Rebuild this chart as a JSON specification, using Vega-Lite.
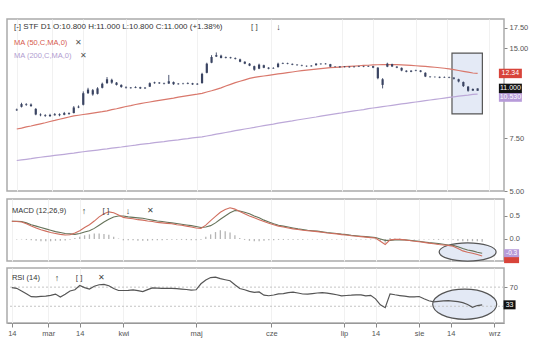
{
"$schema":"https://vega.github.io/schema/vega-lite/v6.json",
"background":"white",
"padding":{"left":5,"top":18,"right":2,"bottom":2},
"spacing":2,
"config":{"font":"Liberation Sans","view":{"stroke":"#aaaaaa","strokeWidth":1.5},"text":{"font":"Liberation Sans"},
"axis":{"labelFont":"Liberation Sans","labelFontSize":7.5,"labelColor":"#555","tickColor":"#888","domainColor":"#999","tickSize":3,"gridColor":"#f1f1f1","labelPadding":2}},
"datasets":{"p":[
{"d":"2017-02-14","o":9.3,"h":9.42,"l":9.25,"c":9.35,"m50":8.05,"m200":6.32,"macd":0.385,"sig":0.387,"hist":0,"rsi":69},
{"d":"2017-02-16","o":9.55,"h":9.85,"l":9.5,"c":9.75,"m50":8.11,"m200":6.35,"macd":0.38,"sig":0.385,"hist":-0.01,"rsi":67.5},
{"d":"2017-02-18","o":9.75,"h":9.82,"l":9.62,"c":9.7,"m50":8.18,"m200":6.38,"macd":0.37,"sig":0.38,"hist":-0.01,"rsi":62},
{"d":"2017-02-20","o":9.72,"h":9.8,"l":9.55,"c":9.6,"m50":8.24,"m200":6.41,"macd":0.33,"sig":0.35,"hist":-0.02,"rsi":56},
{"d":"2017-02-22","o":9.4,"h":9.45,"l":8.95,"c":9.0,"m50":8.31,"m200":6.45,"macd":0.28,"sig":0.31,"hist":-0.03,"rsi":50},
{"d":"2017-02-24","o":9.0,"h":9.08,"l":8.88,"c":8.95,"m50":8.38,"m200":6.48,"macd":0.24,"sig":0.28,"hist":-0.04,"rsi":49.8},
{"d":"2017-02-26","o":8.95,"h":9.02,"l":8.84,"c":8.9,"m50":8.45,"m200":6.51,"macd":0.2,"sig":0.25,"hist":-0.05,"rsi":50.6},
{"d":"2017-02-28","o":8.88,"h":9.05,"l":8.85,"c":8.97,"m50":8.53,"m200":6.54,"macd":0.17,"sig":0.22,"hist":-0.05,"rsi":51.3},
{"d":"2017-03-02","o":8.95,"h":9.1,"l":8.92,"c":9.02,"m50":8.6,"m200":6.57,"macd":0.14,"sig":0.19,"hist":-0.05,"rsi":52.8},
{"d":"2017-03-04","o":9.02,"h":9.08,"l":8.88,"c":8.95,"m50":8.68,"m200":6.6,"macd":0.12,"sig":0.16,"hist":-0.04,"rsi":55.5},
{"d":"2017-03-06","o":8.98,"h":9.18,"l":8.95,"c":9.1,"m50":8.75,"m200":6.63,"macd":0.1,"sig":0.14,"hist":-0.04,"rsi":49.3},
{"d":"2017-03-08","o":9.1,"h":9.15,"l":8.98,"c":9.04,"m50":8.83,"m200":6.66,"macd":0.085,"sig":0.12,"hist":-0.035,"rsi":55},
{"d":"2017-03-10","o":9.1,"h":9.6,"l":9.08,"c":9.5,"m50":8.9,"m200":6.69,"macd":0.09,"sig":0.11,"hist":-0.02,"rsi":62},
{"d":"2017-03-12","o":9.5,"h":9.65,"l":9.45,"c":9.56,"m50":8.95,"m200":6.73,"macd":0.13,"sig":0.1,"hist":0.02,"rsi":64.4},
{"d":"2017-03-14","o":9.7,"h":10.75,"l":9.65,"c":10.6,"m50":9.0,"m200":6.76,"macd":0.18,"sig":0.12,"hist":0.05,"rsi":73.5},
{"d":"2017-03-16","o":10.6,"h":11.05,"l":10.55,"c":10.9,"m50":9.05,"m200":6.79,"macd":0.25,"sig":0.15,"hist":0.08,"rsi":69},
{"d":"2017-03-18","o":10.85,"h":10.95,"l":10.4,"c":10.5,"m50":9.1,"m200":6.82,"macd":0.31,"sig":0.18,"hist":0.1,"rsi":66},
{"d":"2017-03-20","o":10.55,"h":11.1,"l":10.5,"c":11.0,"m50":9.15,"m200":6.85,"macd":0.39,"sig":0.23,"hist":0.12,"rsi":71.8},
{"d":"2017-03-22","o":11.05,"h":11.5,"l":11.0,"c":11.4,"m50":9.2,"m200":6.88,"macd":0.48,"sig":0.3,"hist":0.12,"rsi":75},
{"d":"2017-03-24","o":11.45,"h":12.0,"l":11.4,"c":11.8,"m50":9.26,"m200":6.91,"macd":0.55,"sig":0.37,"hist":0.11,"rsi":75.8},
{"d":"2017-03-26","o":11.75,"h":11.85,"l":11.4,"c":11.5,"m50":9.34,"m200":6.95,"macd":0.59,"sig":0.43,"hist":0.09,"rsi":72.9},
{"d":"2017-03-28","o":11.5,"h":11.55,"l":11.25,"c":11.3,"m50":9.41,"m200":6.98,"macd":0.57,"sig":0.48,"hist":0.05,"rsi":67},
{"d":"2017-03-30","o":11.3,"h":11.35,"l":11.05,"c":11.12,"m50":9.49,"m200":7.01,"macd":0.52,"sig":0.5,"hist":0.01,"rsi":63},
{"d":"2017-04-01","o":11.1,"h":11.18,"l":10.98,"c":11.05,"m50":9.57,"m200":7.05,"macd":0.47,"sig":0.5,"hist":-0.03,"rsi":63},
{"d":"2017-04-03","o":11.02,"h":11.12,"l":10.98,"c":11.07,"m50":9.64,"m200":7.08,"macd":0.45,"sig":0.48,"hist":-0.03,"rsi":63.4},
{"d":"2017-04-05","o":11.05,"h":11.18,"l":11.02,"c":11.12,"m50":9.72,"m200":7.11,"macd":0.44,"sig":0.47,"hist":-0.03,"rsi":64.1},
{"d":"2017-04-07","o":11.1,"h":11.14,"l":10.95,"c":11.0,"m50":9.79,"m200":7.15,"macd":0.42,"sig":0.46,"hist":-0.04,"rsi":62.6},
{"d":"2017-04-09","o":11.0,"h":11.12,"l":10.96,"c":11.06,"m50":9.85,"m200":7.18,"macd":0.41,"sig":0.45,"hist":-0.04,"rsi":60.6},
{"d":"2017-04-11","o":11.15,"h":11.52,"l":11.12,"c":11.45,"m50":9.91,"m200":7.21,"macd":0.39,"sig":0.43,"hist":-0.04,"rsi":64.8},
{"d":"2017-04-13","o":11.45,"h":11.58,"l":11.4,"c":11.52,"m50":9.97,"m200":7.25,"macd":0.38,"sig":0.41,"hist":-0.03,"rsi":68.5},
{"d":"2017-04-15","o":11.5,"h":11.55,"l":11.38,"c":11.44,"m50":10.03,"m200":7.28,"macd":0.36,"sig":0.39,"hist":-0.03,"rsi":67.9},
{"d":"2017-04-17","o":11.45,"h":11.5,"l":11.34,"c":11.4,"m50":10.09,"m200":7.31,"macd":0.35,"sig":0.38,"hist":-0.03,"rsi":67.3},
{"d":"2017-04-19","o":11.42,"h":12.2,"l":11.38,"c":11.62,"m50":10.15,"m200":7.35,"macd":0.34,"sig":0.365,"hist":-0.025,"rsi":67.3},
{"d":"2017-04-21","o":11.55,"h":11.6,"l":11.3,"c":11.36,"m50":10.21,"m200":7.38,"macd":0.33,"sig":0.35,"hist":-0.02,"rsi":67.3},
{"d":"2017-04-23","o":11.36,"h":11.46,"l":11.32,"c":11.41,"m50":10.28,"m200":7.41,"macd":0.31,"sig":0.335,"hist":-0.02,"rsi":67},
{"d":"2017-04-25","o":11.41,"h":11.48,"l":11.34,"c":11.38,"m50":10.34,"m200":7.45,"macd":0.3,"sig":0.32,"hist":-0.02,"rsi":65.9},
{"d":"2017-04-27","o":11.4,"h":11.52,"l":11.36,"c":11.46,"m50":10.4,"m200":7.48,"macd":0.28,"sig":0.305,"hist":-0.025,"rsi":65},
{"d":"2017-04-29","o":11.44,"h":11.48,"l":11.3,"c":11.34,"m50":10.46,"m200":7.52,"macd":0.26,"sig":0.29,"hist":-0.03,"rsi":63.6},
{"d":"2017-05-01","o":11.34,"h":11.46,"l":11.3,"c":11.4,"m50":10.52,"m200":7.55,"macd":0.24,"sig":0.27,"hist":-0.03,"rsi":64.5},
{"d":"2017-05-03","o":11.45,"h":12.4,"l":11.42,"c":12.3,"m50":10.59,"m200":7.58,"macd":0.23,"sig":0.25,"hist":-0.02,"rsi":77},
{"d":"2017-05-05","o":12.4,"h":13.4,"l":12.35,"c":13.3,"m50":10.7,"m200":7.63,"macd":0.3,"sig":0.26,"hist":0.05,"rsi":85},
{"d":"2017-05-07","o":13.4,"h":14.2,"l":13.35,"c":14.0,"m50":10.8,"m200":7.68,"macd":0.4,"sig":0.29,"hist":0.1,"rsi":90},
{"d":"2017-05-09","o":14.05,"h":14.5,"l":14.0,"c":14.2,"m50":10.92,"m200":7.74,"macd":0.49,"sig":0.35,"hist":0.15,"rsi":90.8},
{"d":"2017-05-11","o":14.15,"h":14.25,"l":13.85,"c":13.9,"m50":11.04,"m200":7.79,"macd":0.58,"sig":0.43,"hist":0.19,"rsi":87.8},
{"d":"2017-05-13","o":13.9,"h":14.05,"l":13.85,"c":13.98,"m50":11.2,"m200":7.84,"macd":0.64,"sig":0.5,"hist":0.17,"rsi":85.5},
{"d":"2017-05-15","o":13.96,"h":14.02,"l":13.84,"c":13.88,"m50":11.35,"m200":7.89,"macd":0.68,"sig":0.57,"hist":0.14,"rsi":83.4},
{"d":"2017-05-17","o":13.88,"h":13.95,"l":13.74,"c":13.8,"m50":11.5,"m200":7.95,"macd":0.65,"sig":0.62,"hist":0.08,"rsi":75},
{"d":"2017-05-19","o":13.75,"h":13.82,"l":13.45,"c":13.5,"m50":11.62,"m200":8.0,"macd":0.6,"sig":0.61,"hist":0.02,"rsi":67},
{"d":"2017-05-21","o":13.5,"h":13.55,"l":13.25,"c":13.3,"m50":11.75,"m200":8.05,"macd":0.55,"sig":0.58,"hist":-0.02,"rsi":64.6},
{"d":"2017-05-23","o":13.3,"h":13.36,"l":13.05,"c":13.1,"m50":11.88,"m200":8.1,"macd":0.5,"sig":0.55,"hist":-0.04,"rsi":61},
{"d":"2017-05-25","o":13.05,"h":13.1,"l":12.6,"c":12.7,"m50":11.98,"m200":8.15,"macd":0.46,"sig":0.5,"hist":-0.05,"rsi":59.2},
{"d":"2017-05-27","o":12.8,"h":13.3,"l":12.75,"c":13.2,"m50":12.04,"m200":8.21,"macd":0.42,"sig":0.46,"hist":-0.05,"rsi":60},
{"d":"2017-05-29","o":13.15,"h":13.2,"l":12.85,"c":12.9,"m50":12.1,"m200":8.26,"macd":0.38,"sig":0.41,"hist":-0.04,"rsi":53.2},
{"d":"2017-05-31","o":12.9,"h":12.95,"l":12.74,"c":12.8,"m50":12.16,"m200":8.31,"macd":0.34,"sig":0.37,"hist":-0.03,"rsi":52},
{"d":"2017-06-02","o":12.82,"h":12.95,"l":12.78,"c":12.86,"m50":12.22,"m200":8.36,"macd":0.31,"sig":0.33,"hist":-0.03,"rsi":53.6},
{"d":"2017-06-04","o":12.95,"h":13.4,"l":12.92,"c":13.3,"m50":12.29,"m200":8.42,"macd":0.28,"sig":0.3,"hist":-0.02,"rsi":56},
{"d":"2017-06-06","o":13.3,"h":13.42,"l":13.26,"c":13.36,"m50":12.35,"m200":8.47,"macd":0.26,"sig":0.28,"hist":-0.02,"rsi":56.4},
{"d":"2017-06-08","o":13.36,"h":13.4,"l":13.24,"c":13.3,"m50":12.42,"m200":8.52,"macd":0.24,"sig":0.26,"hist":-0.02,"rsi":58.5},
{"d":"2017-06-10","o":13.28,"h":13.32,"l":13.15,"c":13.2,"m50":12.48,"m200":8.57,"macd":0.22,"sig":0.24,"hist":-0.02,"rsi":59.6},
{"d":"2017-06-12","o":13.2,"h":13.25,"l":13.1,"c":13.15,"m50":12.55,"m200":8.63,"macd":0.205,"sig":0.22,"hist":-0.015,"rsi":57.8},
{"d":"2017-06-14","o":13.15,"h":13.2,"l":13.04,"c":13.1,"m50":12.61,"m200":8.68,"macd":0.19,"sig":0.205,"hist":-0.015,"rsi":55.6},
{"d":"2017-06-16","o":13.08,"h":13.12,"l":12.98,"c":13.04,"m50":12.66,"m200":8.73,"macd":0.18,"sig":0.19,"hist":-0.01,"rsi":55.3},
{"d":"2017-06-18","o":13.04,"h":13.15,"l":13.0,"c":13.1,"m50":12.7,"m200":8.78,"macd":0.17,"sig":0.18,"hist":-0.01,"rsi":56.6},
{"d":"2017-06-20","o":13.15,"h":13.36,"l":13.1,"c":13.3,"m50":12.75,"m200":8.83,"macd":0.16,"sig":0.17,"hist":-0.01,"rsi":57.7},
{"d":"2017-06-22","o":13.3,"h":13.34,"l":13.2,"c":13.25,"m50":12.8,"m200":8.89,"macd":0.145,"sig":0.155,"hist":-0.01,"rsi":58.4},
{"d":"2017-06-24","o":13.25,"h":13.36,"l":13.22,"c":13.3,"m50":12.85,"m200":8.94,"macd":0.13,"sig":0.14,"hist":-0.01,"rsi":57.5},
{"d":"2017-06-26","o":13.25,"h":13.28,"l":12.95,"c":13.0,"m50":12.9,"m200":8.99,"macd":0.12,"sig":0.13,"hist":-0.01,"rsi":55.8},
{"d":"2017-06-28","o":13.0,"h":13.06,"l":12.94,"c":13.02,"m50":12.93,"m200":9.04,"macd":0.11,"sig":0.12,"hist":-0.01,"rsi":54},
{"d":"2017-06-30","o":13.02,"h":13.05,"l":12.9,"c":12.95,"m50":12.96,"m200":9.09,"macd":0.095,"sig":0.105,"hist":-0.01,"rsi":51.8},
{"d":"2017-07-02","o":12.96,"h":13.06,"l":12.92,"c":13.0,"m50":13.0,"m200":9.15,"macd":0.085,"sig":0.095,"hist":-0.01,"rsi":52.5},
{"d":"2017-07-04","o":13.0,"h":13.04,"l":12.9,"c":12.94,"m50":13.03,"m200":9.2,"macd":0.07,"sig":0.08,"hist":-0.01,"rsi":53.1},
{"d":"2017-07-06","o":12.95,"h":13.06,"l":12.92,"c":13.0,"m50":13.06,"m200":9.25,"macd":0.06,"sig":0.07,"hist":-0.01,"rsi":54},
{"d":"2017-07-08","o":13.0,"h":13.1,"l":12.96,"c":13.05,"m50":13.09,"m200":9.3,"macd":0.05,"sig":0.06,"hist":-0.01,"rsi":53.8},
{"d":"2017-07-10","o":13.04,"h":13.08,"l":12.95,"c":12.99,"m50":13.12,"m200":9.35,"macd":0.04,"sig":0.05,"hist":-0.01,"rsi":51.9},
{"d":"2017-07-12","o":13.0,"h":13.1,"l":12.97,"c":13.05,"m50":13.14,"m200":9.41,"macd":0.03,"sig":0.04,"hist":-0.01,"rsi":52.8},
{"d":"2017-07-14","o":13.05,"h":13.08,"l":12.85,"c":12.9,"m50":13.17,"m200":9.46,"macd":0.02,"sig":0.03,"hist":-0.01,"rsi":45.5},
{"d":"2017-07-16","o":12.9,"h":12.95,"l":11.8,"c":11.9,"m50":13.19,"m200":9.51,"macd":-0.05,"sig":0.0,"hist":-0.04,"rsi":33},
{"d":"2017-07-18","o":11.8,"h":11.9,"l":11.0,"c":11.3,"m50":13.2,"m200":9.56,"macd":-0.12,"sig":-0.03,"hist":-0.08,"rsi":27},
{"d":"2017-07-20","o":13.0,"h":13.4,"l":12.95,"c":13.3,"m50":13.2,"m200":9.61,"macd":-0.02,"sig":-0.03,"hist":0.02,"rsi":56},
{"d":"2017-07-22","o":13.25,"h":13.3,"l":12.96,"c":13.02,"m50":13.2,"m200":9.66,"macd":-0.01,"sig":-0.02,"hist":0.01,"rsi":54},
{"d":"2017-07-24","o":13.0,"h":13.05,"l":12.85,"c":12.9,"m50":13.2,"m200":9.71,"macd":-0.01,"sig":-0.02,"hist":0.01,"rsi":52.4},
{"d":"2017-07-26","o":12.88,"h":12.92,"l":12.55,"c":12.62,"m50":13.18,"m200":9.76,"macd":-0.02,"sig":-0.02,"hist":0,"rsi":51},
{"d":"2017-07-28","o":12.6,"h":12.65,"l":12.45,"c":12.5,"m50":13.15,"m200":9.81,"macd":-0.035,"sig":-0.03,"hist":-0.005,"rsi":49.7},
{"d":"2017-07-30","o":12.5,"h":12.66,"l":12.46,"c":12.6,"m50":13.12,"m200":9.86,"macd":-0.05,"sig":-0.04,"hist":-0.01,"rsi":49.5},
{"d":"2017-08-01","o":12.6,"h":12.7,"l":12.55,"c":12.65,"m50":13.09,"m200":9.91,"macd":-0.06,"sig":-0.05,"hist":-0.01,"rsi":50.4},
{"d":"2017-08-03","o":12.62,"h":12.66,"l":12.45,"c":12.5,"m50":13.05,"m200":9.96,"macd":-0.075,"sig":-0.065,"hist":-0.01,"rsi":45.8},
{"d":"2017-08-05","o":12.4,"h":12.45,"l":12.0,"c":12.05,"m50":13.02,"m200":10.01,"macd":-0.09,"sig":-0.08,"hist":-0.01,"rsi":41.6},
{"d":"2017-08-07","o":12.04,"h":12.08,"l":11.95,"c":12.0,"m50":12.98,"m200":10.06,"macd":-0.105,"sig":-0.09,"hist":-0.015,"rsi":39.3},
{"d":"2017-08-09","o":12.0,"h":12.06,"l":11.95,"c":12.02,"m50":12.94,"m200":10.11,"macd":-0.12,"sig":-0.1,"hist":-0.02,"rsi":40.4},
{"d":"2017-08-11","o":12.02,"h":12.05,"l":11.9,"c":11.95,"m50":12.89,"m200":10.16,"macd":-0.13,"sig":-0.115,"hist":-0.015,"rsi":41.1},
{"d":"2017-08-13","o":11.96,"h":12.06,"l":11.92,"c":12.0,"m50":12.84,"m200":10.21,"macd":-0.14,"sig":-0.13,"hist":-0.01,"rsi":41.6},
{"d":"2017-08-15","o":12.0,"h":12.04,"l":11.9,"c":11.95,"m50":12.78,"m200":10.26,"macd":-0.16,"sig":-0.14,"hist":-0.02,"rsi":40.7},
{"d":"2017-08-17","o":11.95,"h":11.98,"l":11.78,"c":11.85,"m50":12.7,"m200":10.31,"macd":-0.21,"sig":-0.17,"hist":-0.04,"rsi":39.5},
{"d":"2017-08-19","o":11.8,"h":11.85,"l":11.52,"c":11.6,"m50":12.62,"m200":10.36,"macd":-0.26,"sig":-0.21,"hist":-0.05,"rsi":37.6},
{"d":"2017-08-21","o":11.55,"h":11.6,"l":11.12,"c":11.2,"m50":12.54,"m200":10.41,"macd":-0.29,"sig":-0.24,"hist":-0.05,"rsi":33.8},
{"d":"2017-08-23","o":11.15,"h":11.2,"l":10.72,"c":10.8,"m50":12.46,"m200":10.45,"macd":-0.31,"sig":-0.26,"hist":-0.05,"rsi":27.9},
{"d":"2017-08-25","o":10.82,"h":11.0,"l":10.78,"c":10.95,"m50":12.38,"m200":10.5,"macd":-0.34,"sig":-0.29,"hist":-0.05,"rsi":31.5},
{"d":"2017-08-27","o":10.8,"h":11.0,"l":10.8,"c":11.0,"m50":12.34,"m200":10.53,"macd":-0.37,"sig":-0.31,"hist":-0.06,"rsi":33}
]},
"data":{"name":"p"},
"vconcat":[
{"width":497,"height":172,
"layer":[
{"data":{"values":[{}]},"mark":{"type":"rect","fill":"#e4eaf6","stroke":"#555555","strokeWidth":1.2},
"encoding":{
"x":{"datum":{"year":2017,"month":8,"date":16,"hours":5,"utc":true},"type":"temporal","title":null,
"scale":{"type":"utc","domain":[{"year":2017,"month":2,"date":12,"utc":true},{"year":2017,"month":9,"date":5,"utc":true}]},
"axis":{"title":null,"grid":true,"labels":false,"ticks":false,"domain":false,"values":[{"year":2017,"month":2,"date":14,"utc":true},{"year":2017,"month":3,"date":1,"utc":true},{"year":2017,"month":3,"date":14,"utc":true},{"year":2017,"month":4,"date":1,"utc":true},{"year":2017,"month":5,"date":1,"utc":true},{"year":2017,"month":6,"date":1,"utc":true},{"year":2017,"month":7,"date":1,"utc":true},{"year":2017,"month":7,"date":14,"utc":true},{"year":2017,"month":8,"date":1,"utc":true},{"year":2017,"month":8,"date":14,"utc":true},{"year":2017,"month":9,"date":1,"utc":true}]}},
"x2":{"datum":{"year":2017,"month":8,"date":29,"utc":true}},
"y":{"datum":14.43,"type":"quantitative","title":null,"scale":{"type":"log","domain":[5,18.75],"nice":false},
"axis":{"title":null,"orient":"right","values":[5,7.5,15,17.5],"format":".2f","domain":false,"grid":false,"zindex":0}},
"y2":{"datum":9.04}}},
{"mark":{"type":"line","color":"#bca8d8","strokeWidth":1.2},"encoding":{"x":{"field":"d","type":"temporal"},"y":{"field":"m200","type":"quantitative"}}},
{"mark":{"type":"line","color":"#d9786c","strokeWidth":1.2},"encoding":{"x":{"field":"d","type":"temporal"},"y":{"field":"m50","type":"quantitative"}}},
{"mark":{"type":"rule","color":"#3a4462","strokeWidth":0.9},"encoding":{"x":{"field":"d","type":"temporal"},"y":{"field":"l","type":"quantitative"},"y2":{"field":"h"}}},
{"mark":{"type":"bar","width":2.2,"color":"#3a4462"},"encoding":{"x":{"field":"d","type":"temporal"},"y":{"field":"o","type":"quantitative"},"y2":{"field":"c"}}},
{"data":{"values":[{}]},"mark":{"type":"text","text":"[-] STF D1 O:10.800 H:11.000 L:10.800 C:11.000 (+1.38%)","align":"left","baseline":"middle","fontSize":8,"color":"#333333"},
"encoding":{"x":{"datum":{"year":2017,"month":2,"date":12,"hours":20,"utc":true},"type":"temporal","title":null},"y":{"datum":17.63,"type":"quantitative","title":null}}},
{"data":{"values":[{}]},"mark":{"type":"text","text":"[ ]","align":"center","baseline":"middle","fontSize":8,"color":"#444444"},
"encoding":{"x":{"datum":{"year":2017,"month":5,"date":25,"hours":0,"utc":true},"type":"temporal","title":null},"y":{"datum":17.63,"type":"quantitative","title":null}}},
{"data":{"values":[{}]},"mark":{"type":"text","text":"↓","align":"center","baseline":"middle","fontSize":9,"color":"#444444"},
"encoding":{"x":{"datum":{"year":2017,"month":6,"date":4,"hours":5,"utc":true},"type":"temporal","title":null},"y":{"datum":17.63,"type":"quantitative","title":null}}},
{"data":{"values":[{}]},"mark":{"type":"text","text":"MA (50,C,MA,0)","align":"left","baseline":"middle","fontSize":7.5,"color":"#d65a4e"},
"encoding":{"x":{"datum":{"year":2017,"month":2,"date":12,"hours":20,"utc":true},"type":"temporal","title":null},"y":{"datum":15.59,"type":"quantitative","title":null}}},
{"data":{"values":[{}]},"mark":{"type":"text","text":"✕","align":"center","baseline":"middle","fontSize":8,"color":"#555555"},
"encoding":{"x":{"datum":{"year":2017,"month":3,"date":12,"utc":true},"type":"temporal","title":null},"y":{"datum":15.59,"type":"quantitative","title":null}}},
{"data":{"values":[{}]},"mark":{"type":"text","text":"MA (200,C,MA,0)","align":"left","baseline":"middle","fontSize":7.5,"color":"#b19cd0"},
"encoding":{"x":{"datum":{"year":2017,"month":2,"date":12,"hours":20,"utc":true},"type":"temporal","title":null},"y":{"datum":14.1,"type":"quantitative","title":null}}},
{"data":{"values":[{}]},"mark":{"type":"text","text":"✕","align":"center","baseline":"middle","fontSize":8,"color":"#555555"},
"encoding":{"x":{"datum":{"year":2017,"month":3,"date":13,"hours":22,"utc":true},"type":"temporal","title":null},"y":{"datum":14.1,"type":"quantitative","title":null}}},
{"data":{"values":[{"t":"12.34","v":12.34,"k":"ma50"},{"t":"10.530","v":10.29,"k":"ma200"},{"t":"11.000","v":11.0,"k":"close"}]},
"mark":{"type":"point","shape":"M-1,-0.41H1V0.41H-1Z","size":529,"filled":true,"opacity":1},
"encoding":{"x":{"datum":{"year":2017,"month":9,"date":9,"hours":19,"utc":true},"type":"temporal","title":null},"y":{"field":"v","type":"quantitative","title":null},
"color":{"field":"k","type":"nominal","legend":null,"scale":{"domain":["ma50","ma200","close"],"range":["#d8443a","#b79bd9","#111111"]}}}},
{"data":{"values":[{"t":"12.34","v":12.34},{"t":"10.530","v":10.29},{"t":"11.000","v":11.0}]},
"mark":{"type":"text","align":"center","baseline":"middle","fontSize":7,"color":"white"},
"encoding":{"x":{"datum":{"year":2017,"month":9,"date":9,"hours":19,"utc":true},"type":"temporal","title":null},"y":{"field":"v","type":"quantitative","title":null},"text":{"field":"t"}}}
]},
{"width":497,"height":62,
"layer":[
{"data":{"values":[{}]},"mark":{"type":"point","shape":"M-1,0A1,0.32,0,1,0,1,0A1,0.32,0,1,0,-1,0Z","size":3249,"filled":true,"fill":"#e3e9f5","stroke":"#555555","strokeWidth":1.2,"opacity":1},
"encoding":{
"x":{"datum":{"year":2017,"month":8,"date":21,"utc":true},"type":"temporal","title":null,
"scale":{"type":"utc","domain":[{"year":2017,"month":2,"date":12,"utc":true},{"year":2017,"month":9,"date":5,"utc":true}]},
"axis":{"title":null,"grid":true,"labels":false,"ticks":false,"domain":false,"values":[{"year":2017,"month":2,"date":14,"utc":true},{"year":2017,"month":3,"date":1,"utc":true},{"year":2017,"month":3,"date":14,"utc":true},{"year":2017,"month":4,"date":1,"utc":true},{"year":2017,"month":5,"date":1,"utc":true},{"year":2017,"month":6,"date":1,"utc":true},{"year":2017,"month":7,"date":1,"utc":true},{"year":2017,"month":7,"date":14,"utc":true},{"year":2017,"month":8,"date":1,"utc":true},{"year":2017,"month":8,"date":14,"utc":true},{"year":2017,"month":9,"date":1,"utc":true}]}},
"y":{"datum":-0.283,"type":"quantitative","title":null,"scale":{"domain":[-0.48,0.87],"nice":false,"zero":false},
"axis":{"title":null,"orient":"right","values":[0,0.5],"format":".1f","domain":false,"grid":false,"zindex":0}}}},
{"mark":{"type":"rule","color":"#b5b5b5","strokeWidth":1.3},"encoding":{"x":{"field":"d","type":"temporal"},"y":{"field":"hist","type":"quantitative"},"y2":{"datum":0}}},
{"mark":{"type":"line","color":"#66735a","strokeWidth":1.1},"encoding":{"x":{"field":"d","type":"temporal"},"y":{"field":"sig","type":"quantitative"}}},
{"mark":{"type":"line","color":"#d06e5e","strokeWidth":1.1},"encoding":{"x":{"field":"d","type":"temporal"},"y":{"field":"macd","type":"quantitative"}}},
{"data":{"values":[{}]},"mark":{"type":"text","text":"MACD (12,26,9)","align":"left","baseline":"middle","fontSize":7.5,"color":"#333333"},
"encoding":{"x":{"datum":{"year":2017,"month":2,"date":14,"hours":1,"utc":true},"type":"temporal","title":null},"y":{"datum":0.61,"type":"quantitative","title":null}}},
{"data":{"values":[{}]},"mark":{"type":"text","text":"↑","align":"center","baseline":"middle","fontSize":9,"color":"#444444"},
"encoding":{"x":{"datum":{"year":2017,"month":3,"date":15,"hours":19,"utc":true},"type":"temporal","title":null},"y":{"datum":0.61,"type":"quantitative","title":null}}},
{"data":{"values":[{}]},"mark":{"type":"text","text":"[ ]","align":"center","baseline":"middle","fontSize":8,"color":"#444444"},
"encoding":{"x":{"datum":{"year":2017,"month":3,"date":24,"hours":19,"utc":true},"type":"temporal","title":null},"y":{"datum":0.61,"type":"quantitative","title":null}}},
{"data":{"values":[{}]},"mark":{"type":"text","text":"↓","align":"center","baseline":"middle","fontSize":9,"color":"#444444"},
"encoding":{"x":{"datum":{"year":2017,"month":4,"date":2,"hours":22,"utc":true},"type":"temporal","title":null},"y":{"datum":0.61,"type":"quantitative","title":null}}},
{"data":{"values":[{}]},"mark":{"type":"text","text":"✕","align":"center","baseline":"middle","fontSize":8,"color":"#444444"},
"encoding":{"x":{"datum":{"year":2017,"month":4,"date":12,"utc":true},"type":"temporal","title":null},"y":{"datum":0.61,"type":"quantitative","title":null}}},
{"data":{"values":[{"t":"-0.4","v":-0.44,"k":"macd"},{"t":"-0.3","v":-0.31,"k":"sig"}]},
"mark":{"type":"point","shape":"M-1,-0.53H1V0.53H-1Z","size":225,"filled":true,"opacity":1},
"encoding":{"x":{"datum":{"year":2017,"month":9,"date":8,"hours":3,"utc":true},"type":"temporal","title":null},"y":{"field":"v","type":"quantitative","title":null},
"color":{"field":"k","type":"nominal","legend":null,"scale":{"domain":["macd","sig"],"range":["#d33b2f","#2f9c3c"]}}}},
{"data":{"values":[{"t":"-0.3","v":-0.31}]},
"mark":{"type":"text","align":"center","baseline":"middle","fontSize":6.5,"color":"white"},
"encoding":{"x":{"datum":{"year":2017,"month":9,"date":8,"hours":3,"utc":true},"type":"temporal","title":null},"y":{"field":"v","type":"quantitative","title":null},"text":{"field":"t"}}}
]},
{"width":497,"height":55,
"layer":[
{"data":{"values":[{}]},"mark":{"type":"point","shape":"M-1,0A1,0.47,0,1,0,1,0A1,0.47,0,1,0,-1,0Z","size":4096,"filled":true,"fill":"#e3e9f5","stroke":"#555555","strokeWidth":1.2,"opacity":1},
"encoding":{
"x":{"datum":{"year":2017,"month":8,"date":19,"hours":19,"utc":true},"type":"temporal","title":null,
"scale":{"type":"utc","domain":[{"year":2017,"month":2,"date":12,"utc":true},{"year":2017,"month":9,"date":5,"utc":true}]},
"axis":{"title":null,"grid":true,"tickSize":4,"labelOverlap":false,"labelFlush":false,"labelPadding":2,
"labelExpr":"utcdate(datum.value) == 1 ? ['sty','lut','mar','kwi','maj','cze','lip','sie','wrz','paź','lis','gru'][utcmonth(datum.value)] : '14'",
"values":[{"year":2017,"month":2,"date":14,"utc":true},{"year":2017,"month":3,"date":1,"utc":true},{"year":2017,"month":3,"date":14,"utc":true},{"year":2017,"month":4,"date":1,"utc":true},{"year":2017,"month":5,"date":1,"utc":true},{"year":2017,"month":6,"date":1,"utc":true},{"year":2017,"month":7,"date":1,"utc":true},{"year":2017,"month":7,"date":14,"utc":true},{"year":2017,"month":8,"date":1,"utc":true},{"year":2017,"month":8,"date":14,"utc":true},{"year":2017,"month":9,"date":1,"utc":true}]}},
"y":{"datum":34.2,"type":"quantitative","title":null,"scale":{"domain":[-5,110],"nice":false,"zero":false},
"axis":{"title":null,"orient":"right","values":[70],"format":"d","domain":false,"grid":false,"zindex":0}}}},
{"data":{"values":[{"lvl":30},{"lvl":70}]},"mark":{"type":"rule","color":"#c4c4c4","strokeWidth":1,"strokeDash":[2,2]},"encoding":{"y":{"field":"lvl","type":"quantitative"}}},
{"mark":{"type":"line","color":"#555555","strokeWidth":1.2},"encoding":{"x":{"field":"d","type":"temporal"},"y":{"field":"rsi","type":"quantitative"}}},
{"data":{"values":[{}]},"mark":{"type":"text","text":"RSI (14)","align":"left","baseline":"middle","fontSize":7.5,"color":"#333333"},
"encoding":{"x":{"datum":{"year":2017,"month":2,"date":14,"hours":1,"utc":true},"type":"temporal","title":null},"y":{"datum":89.6,"type":"quantitative","title":null}}},
{"data":{"values":[{}]},"mark":{"type":"text","text":"↑","align":"center","baseline":"middle","fontSize":9,"color":"#444444"},
"encoding":{"x":{"datum":{"year":2017,"month":3,"date":4,"hours":15,"utc":true},"type":"temporal","title":null},"y":{"datum":89.6,"type":"quantitative","title":null}}},
{"data":{"values":[{}]},"mark":{"type":"text","text":"[ ]","align":"center","baseline":"middle","fontSize":8,"color":"#444444"},
"encoding":{"x":{"datum":{"year":2017,"month":3,"date":13,"hours":17,"utc":true},"type":"temporal","title":null},"y":{"datum":89.6,"type":"quantitative","title":null}}},
{"data":{"values":[{}]},"mark":{"type":"text","text":"✕","align":"center","baseline":"middle","fontSize":8,"color":"#444444"},
"encoding":{"x":{"datum":{"year":2017,"month":3,"date":22,"hours":19,"utc":true},"type":"temporal","title":null},"y":{"datum":89.6,"type":"quantitative","title":null}}},
{"data":{"values":[{"t":"33","v":33}]},
"mark":{"type":"point","shape":"M-1,-0.75H1V0.75H-1Z","size":144,"filled":true,"opacity":1,"color":"#111111"},
"encoding":{"x":{"datum":{"year":2017,"month":9,"date":7,"hours":7,"utc":true},"type":"temporal","title":null},"y":{"field":"v","type":"quantitative","title":null}}},
{"data":{"values":[{"t":"33","v":33}]},
"mark":{"type":"text","align":"center","baseline":"middle","fontSize":7,"color":"white"},
"encoding":{"x":{"datum":{"year":2017,"month":9,"date":7,"hours":7,"utc":true},"type":"temporal","title":null},"y":{"field":"v","type":"quantitative","title":null},"text":{"field":"t"}}}
]}
]
}
